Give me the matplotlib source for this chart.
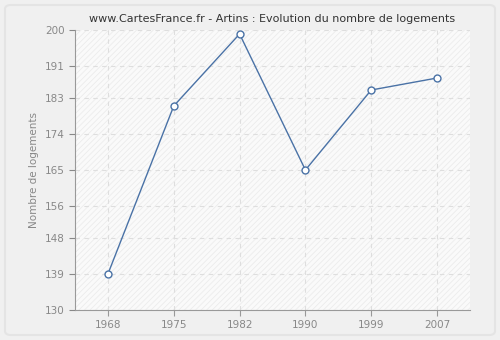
import matplotlib
matplotlib.use("Agg")
import matplotlib as mpl
import matplotlib.pyplot as plt
from matplotlib.patches import FancyBboxPatch, Rectangle

years = ["1968", "1975", "1982", "1990", "1999", "2007"]
values = [139, 181, 199, 165, 185, 188]
yticks = [130, 139, 148, 156, 165, 174, 183, 191, 200]

mpl.rcParams['hatch.color'] = "#ececec"
mpl.rcParams['hatch.linewidth'] = 0.6

fig = plt.figure(figsize=(5, 3.4), dpi=100)
fig.patch.set_facecolor("#f0f0f0")
border = FancyBboxPatch((5/500, 5/340), 490/500, 330/340,
                        boxstyle="round,pad=0,rounding_size=0.012",
                        transform=fig.transFigure, facecolor="#f0f0f0",
                        edgecolor="#e4e4e4", linewidth=1.5, zorder=-5)
fig.patches.append(border)

ax = fig.add_axes([75/500, 30/340, 395/500, 280/340])
ax.set_facecolor("#fafafa")
ax.add_patch(Rectangle((0, 0), 1, 1, transform=ax.transAxes, facecolor="none",
                       edgecolor="#ececec", hatch="//////", linewidth=0, zorder=0))

x = list(range(len(years)))
ax.plot(x, values, color="#4a72a6", linewidth=1, marker="o", markersize=5,
        markerfacecolor="white", markeredgecolor="#4a72a6", markeredgewidth=1, zorder=3)

ax.set_xlim(-0.5, 5.5)
ax.set_ylim(130, 200)
ax.set_xticks(x)
ax.set_xticklabels(years)
ax.set_yticks(yticks)
ax.grid(True, color="#dedede", linestyle=(0, (4, 4)), linewidth=0.8)
ax.set_axisbelow(True)
for s in ["top", "right"]:
    ax.spines[s].set_visible(False)
for s in ["left", "bottom"]:
    ax.spines[s].set_color("#999999")
ax.tick_params(colors="#888888", labelsize=7.5, length=4, width=0.8)
ax.tick_params(axis="x", colors="#999999", labelcolor="#888888")
ax.set_ylabel("Nombre de logements", fontsize=7.5, color="#888888")
ax.set_title("www.CartesFrance.fr - Artins : Evolution du nombre de logements",
             fontsize=8, color="#333333", pad=6)

fig.savefig("out.png", dpi=100, facecolor=fig.get_facecolor())
